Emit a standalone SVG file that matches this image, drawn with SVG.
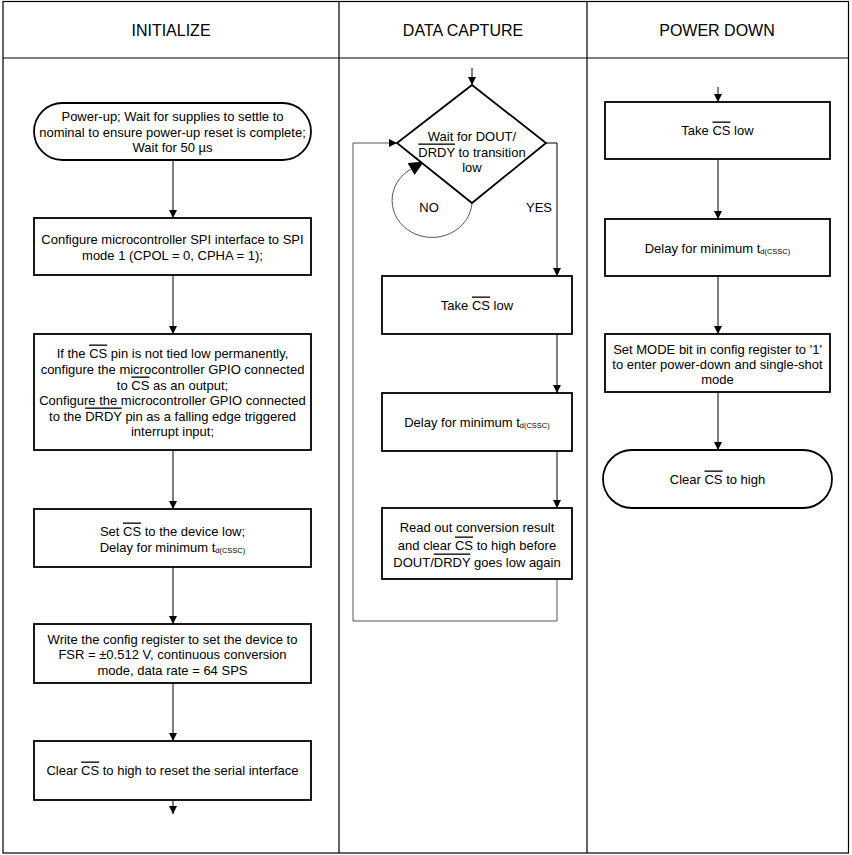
<svg xmlns="http://www.w3.org/2000/svg" width="852" height="855" viewBox="0 0 852 855">
<style>
text{font-family:"Liberation Sans",Arial,sans-serif;font-size:13px;fill:#000;text-anchor:middle}
.hdr{font-size:16px}
.node{fill:#fff;stroke:#000;stroke-width:1.8}
.frame{fill:none;stroke:#000;stroke-width:1.2}
.conn{fill:none;stroke:#000;stroke-width:1}
.loop{fill:none;stroke:#555;stroke-width:1}
.ov{text-decoration:overline}
.sub{font-size:7.5px}
</style>
<defs>
<marker id="ah" markerUnits="userSpaceOnUse" markerWidth="9" markerHeight="8" refX="8" refY="4" orient="auto">
<path d="M0,0 L8,4 L0,8 z" fill="#000"/>
</marker>
<marker id="big" markerUnits="userSpaceOnUse" markerWidth="16" markerHeight="14" refX="0" refY="7" orient="auto">
<path d="M0,0 L15,7 L0,14 z" fill="#000"/>
</marker>
</defs>
<rect id="bg" x="0" y="0" width="852" height="855" fill="#fff"/>
<g id="frame">
<rect class="frame" x="3" y="1.5" width="845.5" height="851.5"/>
<line class="frame" x1="3" y1="58" x2="848.5" y2="58"/>
<line class="frame" x1="339" y1="1.5" x2="339" y2="853"/>
<line class="frame" x1="587" y1="1.5" x2="587" y2="853"/>
<text class="hdr" x="171" y="36">INITIALIZE</text>
<text class="hdr" x="463" y="36">DATA CAPTURE</text>
<text class="hdr" x="717" y="36">POWER DOWN</text>
</g>
<g id="connectors">
<path class="conn" d="M173,160 V218" marker-end="url(#ah)"/>
<path class="conn" d="M173,276 V334" marker-end="url(#ah)"/>
<path class="conn" d="M173,450 V509" marker-end="url(#ah)"/>
<path class="conn" d="M173,567 V624" marker-end="url(#ah)"/>
<path class="conn" d="M173,683 V741" marker-end="url(#ah)"/>
<path class="conn" d="M173,800 V814" marker-end="url(#ah)"/>
<path class="conn" d="M472,68 V85" marker-end="url(#ah)"/>
<path class="conn" d="M546,143 H557 V276" marker-end="url(#ah)"/>
<path class="conn" d="M557,334 V393" marker-end="url(#ah)"/>
<path class="conn" d="M557,451 V508" marker-end="url(#ah)"/>
<path class="loop" d="M557,579 V621 H353 V143 H397" marker-end="url(#ah)"/>
<path class="loop" d="M472,203 A40,37 0 1 1 411,169" marker-end="url(#big)"/>
<text x="429" y="212">NO</text>
<text x="539" y="212">YES</text>
<path class="conn" d="M718,87 V102" marker-end="url(#ah)"/>
<path class="conn" d="M718,159 V219" marker-end="url(#ah)"/>
<path class="conn" d="M718,276 V334" marker-end="url(#ah)"/>
<path class="conn" d="M718,392 V450" marker-end="url(#ah)"/>
</g>
<g id="n_powerup">
<rect class="node" x="34" y="103" width="277" height="57" rx="28.5" ry="28.5"/>
<text x="172.5" y="120.5">Power-up; Wait for supplies to settle to</text>
<text x="172.5" y="136.5">nominal to ensure power-up reset is complete;</text>
<text x="172.5" y="151.5">Wait for 50 µs</text>
</g>
<g id="n_spi">
<rect class="node" x="34" y="218" width="277" height="57"/>
<text x="172.5" y="243.5">Configure microcontroller SPI interface to SPI</text>
<text x="172.5" y="259.5">mode 1 (CPOL = 0, CPHA = 1);</text>
</g>
<g id="n_gpio">
<rect class="node" x="34" y="334" width="277" height="116"/>
<text x="172.5" y="357.5">If the <tspan class="ov">CS</tspan> pin is not tied low permanently,</text>
<text x="172.5" y="373.5">configure the microcontroller GPIO connected</text>
<text x="172.5" y="389.5">to <tspan class="ov">CS</tspan> as an output;</text>
<text x="172.5" y="404.5">Configure the microcontroller GPIO connected</text>
<text x="172.5" y="420.5">to the <tspan class="ov">DRDY</tspan> pin as a falling edge triggered</text>
<text x="172.5" y="435.5">interrupt input;</text>
</g>
<g id="n_setcs">
<rect class="node" x="34" y="509" width="277" height="58"/>
<text x="172.5" y="535.5">Set <tspan class="ov">CS</tspan> to the device low;</text>
<text x="172.5" y="551.5">Delay for minimum t<tspan class="sub" dy="1">d(CSSC)</tspan></text>
</g>
<g id="n_config">
<rect class="node" x="34" y="624" width="277" height="59"/>
<text x="172.5" y="643.5">Write the config register to set the device to</text>
<text x="172.5" y="658.5">FSR = ±0.512 V, continuous conversion</text>
<text x="172.5" y="674.5">mode, data rate = 64 SPS</text>
</g>
<g id="n_clear1">
<rect class="node" x="34" y="741" width="277" height="59"/>
<text x="172.5" y="774.5">Clear <tspan class="ov">CS</tspan> to high to reset the serial interface</text>
</g>
<g id="n_wait">
<path class="node" d="M472,85 L546,143 L472,203 L397,143 z"/>
<text x="472" y="140.5">Wait for DOUT/</text>
<text x="472" y="156.5"><tspan class="ov">DRDY</tspan> to transition</text>
<text x="472" y="171.5">low</text>
</g>
<g id="n_take1">
<rect class="node" x="382" y="276" width="190" height="58"/>
<text x="477" y="309.5">Take <tspan class="ov">CS</tspan> low</text>
</g>
<g id="n_delay1">
<rect class="node" x="382" y="393" width="190" height="58"/>
<text x="477" y="426.5">Delay for minimum t<tspan class="sub" dy="1">d(CSSC)</tspan></text>
</g>
<g id="n_read">
<rect class="node" x="382" y="508" width="190" height="71"/>
<text x="477" y="531.5">Read out conversion result</text>
<text x="477" y="549.5">and clear <tspan class="ov">CS</tspan> to high before</text>
<text x="477" y="566.5">DOUT/<tspan class="ov">DRDY</tspan> goes low again</text>
</g>
<g id="n_take2">
<rect class="node" x="605" y="102" width="225" height="57"/>
<text x="717.5" y="134.5">Take <tspan class="ov">CS</tspan> low</text>
</g>
<g id="n_delay2">
<rect class="node" x="605" y="219" width="225" height="57"/>
<text x="717.5" y="252.5">Delay for minimum t<tspan class="sub" dy="1">d(CSSC)</tspan></text>
</g>
<g id="n_mode">
<rect class="node" x="605" y="334" width="225" height="58"/>
<text x="717.5" y="353.5">Set MODE bit in config register to '1'</text>
<text x="717.5" y="368.5">to enter power-down and single-shot</text>
<text x="717.5" y="383.5">mode</text>
</g>
<g id="n_clear2">
<rect class="node" x="603" y="450" width="229" height="58" rx="29" ry="29"/>
<text x="717.5" y="483.5">Clear <tspan class="ov">CS</tspan> to high</text>
</g>
</svg>
